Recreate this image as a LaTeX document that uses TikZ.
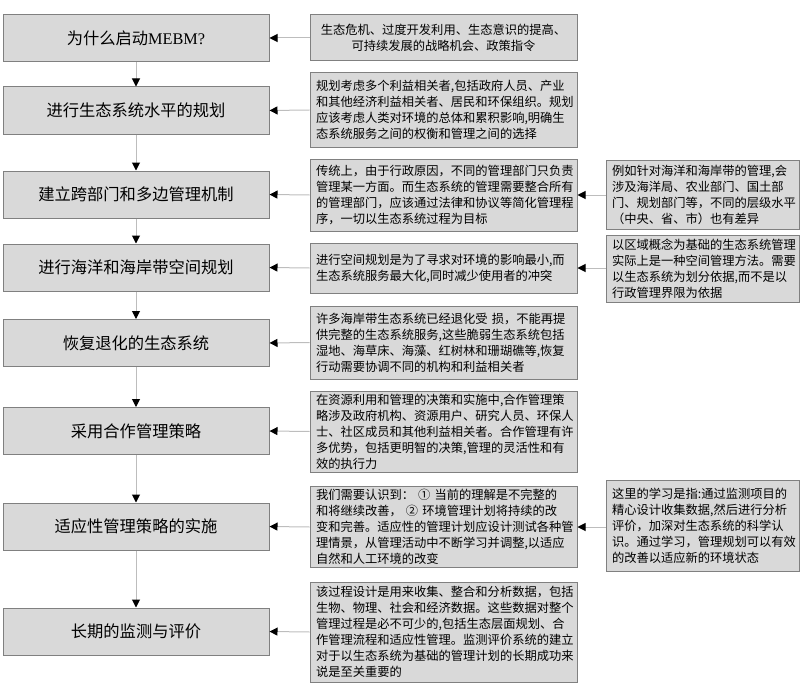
\documentclass[tikz,border=0pt]{standalone}
\usepackage{fontspec}
\setmainfont{Liberation Serif}
\newfontfamily\cjk{Noto Sans CJK SC}
\usetikzlibrary{arrows.meta}
\definecolor{boxfill}{HTML}{D9D9D9}
\definecolor{boxline}{HTML}{808080}
\definecolor{linkgray}{HTML}{BDBDBD}

\begin{document}
\begin{tikzpicture}[x=0.75pt, y=-0.75pt,
		stage/.style={draw=boxline, fill=boxfill, line width=0.75pt, minimum width=199.5pt, minimum height=35.25pt, inner sep=0pt, font=\cjk\fontsize{12.2}{14}\selectfont},
		note/.style={draw=boxline, fill=boxfill, line width=0.75pt, inner xsep=4.5pt, inner ysep=2pt, text width=191.25pt, align=left, font=\cjk\fontsize{9.2}{12}\selectfont},
		sidenote/.style={note, text width=135.75pt},
		link/.style={draw=linkgray, line width=0.75pt, -{Triangle[length=6pt, width=6pt, color=black]}}]
			\useasboundingbox (0,0) rectangle (800,685);
			% steps on the left
			\node[stage] (l1) at (136,38) {为什么启动{\rmfamily MEBM?}};
			\node[stage] (l2) at (136,110.5) {进行生态系统水平的规划};
			\node[stage] (l3) at (136,194.5) {建立跨部门和多边管理机制};
			\node[stage] (l4) at (136,267.5) {进行海洋和海岸带空间规划};
			\node[stage] (l5) at (136,343) {恢复退化的生态系统};
			\node[stage] (l6) at (136,431) {采用合作管理策略};
			\node[stage] (l7) at (136,526.5) {适应性管理策略的实施};
			\node[stage] (l8) at (136,631.5) {长期的监测与评价};
			% explanations
			\node[note, align=center, minimum height=34.5pt] (m1) at (443.5,38) {生态危机、过度开发利用、生态意识的提高、\\可持续发展的战略机会、政策指令};
			\node[note, minimum height=55.5pt] (m2) at (443.5,110) {规划考虑多个利益相关者,包括政府人员、产业\\和其他经济利益相关者、居民和环保组织。规划\\应该考虑人类对环境的总体和累积影响,明确生\\态系统服务之间的权衡和管理之间的选择};
			\node[note, minimum height=54pt] (m3) at (443.5,195) {传统上，由于行政原因，不同的管理部门只负责\\管理某一方面。而生态系统的管理需要整合所有\\的管理部门，应该通过法律和协议等简化管理程\\序，一切以生态系统过程为目标};
			\node[note, minimum height=37.5pt] (m4) at (443.5,268) {进行空间规划是为了寻求对环境的影响最小,而\\生态系统服务最大化,同时减少使用者的冲突};
			\node[note, minimum height=54.75pt] (m5) at (443.5,342.5) {许多海岸带生态系统已经退化受 损，不能再提\\供完整的生态系统服务,这些脆弱生态系统包括\\湿地、海草床、海藻、红树林和珊瑚礁等,恢复\\行动需要协调不同的机构和利益相关者};
			\node[note, minimum height=60.75pt] (m6) at (443.5,431.5) {在资源利用和管理的决策和实施中,合作管理策\\略涉及政府机构、资源用户、研究人员、环保人\\士、社区成员和其他利益相关者。合作管理有许\\多优势，包括更明智的决策,管理的灵活性和有\\效的执行力};
			\node[note, minimum height=60pt] (m7) at (443.5,527) {我们需要认识到： ① 当前的理解是不完整的\\和将继续改善， ② 环境管理计划将持续的改\\变和完善。适应性的管理计划应设计测试各种管\\理情景，从管理活动中不断学习并调整,以适应\\自然和人工环境的改变};
			\node[note, minimum height=75pt] (m8) at (443.5,632) {该过程设计是用来收集、整合和分析数据，包括\\生物、物理、社会和经济数据。这些数据对整个\\管理过程是必不可少的,包括生态层面规划、合\\作管理流程和适应性管理。监测评价系统的建立\\对于以生态系统为基础的管理计划的长期成功来\\说是至关重要的};
			% further notes on the right
			\node[sidenote, minimum height=51.75pt] (r3) at (702.5,194.5) {例如针对海洋和海岸带的管理,会\\涉及海洋局、农业部门、国土部\\门、规划部门等，不同的层级水平\\（中央、省、市）也有差异};
			\node[sidenote, minimum height=50.25pt] (r4) at (702.5,268.5) {以区域概念为基础的生态系统管理\\实际上是一种空间管理方法。需要\\以生态系统为划分依据,而不是以\\行政管理界限为依据};
			\node[sidenote, minimum height=68.25pt] (r7) at (702.5,525.5) {这里的学习是指:通过监测项目的\\精心设计收集数据,然后进行分析\\评价，加深对生态系统的科学认\\识。通过学习，管理规划可以有效\\的改善以适应新的环境状态};
			% connectors
			\foreach[count=\j from 2] \i in {1,...,7}{
				\draw[link] (l\i) -- (l\j);
			}
			\foreach \i in {1,...,8}{
				\draw[link] (m\i.west) -- (l\i.east);
			}
			\foreach \i in {3,4,7}{
				\draw[link] (r\i.west |- m\i.east) -- (m\i.east);
			}
		\end{tikzpicture}
\end{document}
